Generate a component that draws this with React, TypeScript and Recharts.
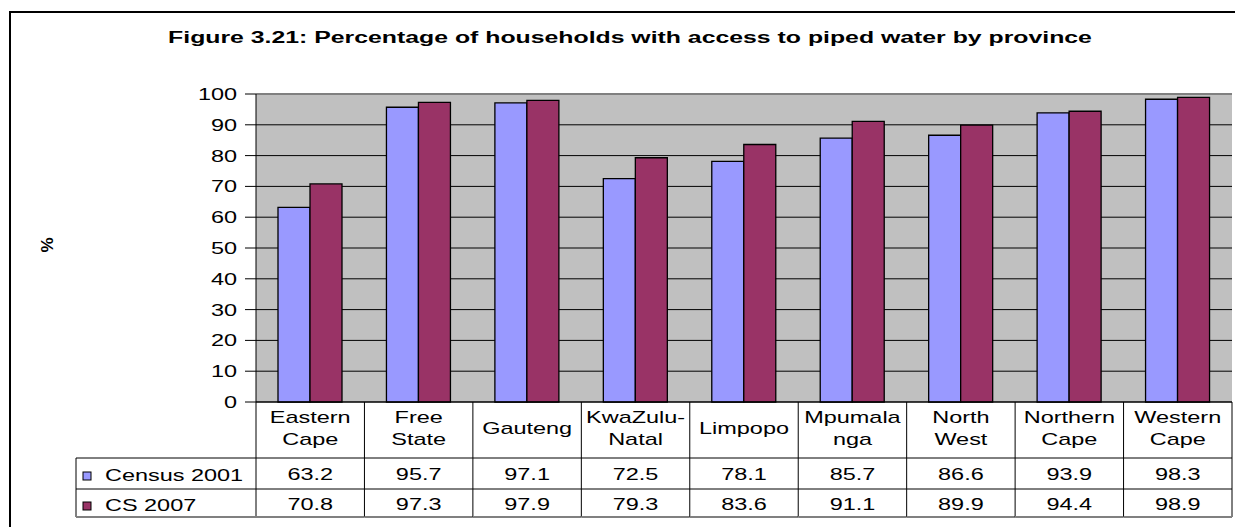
import React from 'react';
import { BarChart, Bar, XAxis, YAxis, CartesianGrid, ReferenceLine } from 'recharts';

const categories = ['Eastern\nCape', 'Free\nState', 'Gauteng', 'KwaZulu-\nNatal', 'Limpopo', 'Mpumala\nnga', 'North\nWest', 'Northern\nCape', 'Western\nCape'];
const census2001 = [63.2, 95.7, 97.1, 72.5, 78.1, 85.7, 86.6, 93.9, 98.3];
const cs2007 = [70.8, 97.3, 97.9, 79.3, 83.6, 91.1, 89.9, 94.4, 98.9];
const yTicks = [0, 10, 20, 30, 40, 50, 60, 70, 80, 90, 100];
const seriesNames = ['Census 2001', 'CS 2007'];
const seriesColors = ['#9999FF', '#993366'];
const titleText = 'Figure 3.21: Percentage of households with access to piped water by province';
const yLabel = '%';

const data = categories.map((c, i) => ({ name: c, census: census2001[i], cs: cs2007[i] }));
const seriesValues = [census2001, cs2007];

const W = 1235;
const H = 527;
const YW = 60;
const XH = 125;
const M = { top: 94, right: 3, bottom: 0, left: 196 };
const PLOT_LEFT = M.left + YW;
const PLOT_RIGHT = W - M.right;
const CELL_W = (PLOT_RIGHT - PLOT_LEFT) / categories.length;
const LEGEND_W = 180;
const FONT = '"Liberation Sans", Arial, Helvetica, sans-serif';
const SX = 1.38;
const FS = 17;

const STxt = ({ x, y, anchor = 'middle', children, weight = 'normal', sx = SX }: any) => (
  <text
    transform={`translate(${x},${y}) scale(${sx},1)`}
    textAnchor={anchor}
    fontFamily={FONT}
    fontSize={FS}
    fontWeight={weight}
    fill="#000"
  >
    {children}
  </text>
);

const YTick = (props: any) => {
  const { x, y, payload } = props;
  return <STxt x={x} y={y + 6} anchor="end">{payload.value}</STxt>;
};

const XTick = (props: any) => {
  const { x, y, index } = props;
  const left = x - CELL_W / 2;
  const right = x + CELL_W / 2;
  const lines = String(categories[index]).split('\n');
  const r1 = y + 56;
  const r2 = y + 87;
  const r3 = y + 115;
  return (
    <g>
      <line x1={left} x2={left} y1={y} y2={r3} stroke="#000" strokeWidth={1} />
      {index === categories.length - 1 && (
        <line x1={right} x2={right} y1={y} y2={r3} stroke="#000" strokeWidth={1} />
      )}
      <line x1={left} x2={right} y1={r1} y2={r1} stroke="#000" strokeWidth={1} />
      <line x1={left} x2={right} y1={r2} y2={r2} stroke="#000" strokeWidth={1} />
      <line x1={left} x2={right} y1={r3} y2={r3} stroke="#808080" strokeWidth={2} />
      {lines.length === 1 ? (
        <STxt x={x} y={y + 32}>{lines[0]}</STxt>
      ) : (
        lines.map((l, k) => (
          <STxt key={k} x={x} y={y + 21 + k * 22}>{l}</STxt>
        ))
      )}
      {seriesValues.map((vals, k) => (
        <STxt key={'v' + k} x={x} y={y + 78 + k * 30}>{vals[index].toFixed(1)}</STxt>
      ))}
      {index === 0 && (
        <g>
          <line x1={left - LEGEND_W} x2={left - LEGEND_W} y1={r1} y2={r3} stroke="#000" strokeWidth={1} />
          <line x1={left - LEGEND_W} x2={left} y1={r1} y2={r1} stroke="#000" strokeWidth={1} />
          <line x1={left - LEGEND_W} x2={left} y1={r2} y2={r2} stroke="#000" strokeWidth={1} />
          <line x1={left - LEGEND_W} x2={left} y1={r3} y2={r3} stroke="#808080" strokeWidth={2} />
          {seriesNames.map((n, k) => (
            <g key={'l' + k}>
              <rect x={left - LEGEND_W + 7} y={y + 70 + k * 30} width={8} height={8} fill={seriesColors[k]} stroke="#000" strokeWidth={1} />
              <STxt x={left - LEGEND_W + 29} y={y + 79 + k * 30} anchor="start">{n}</STxt>
            </g>
          ))}
        </g>
      )}
    </g>
  );
};

export default function App() {
  return (
    <div style={{ position: 'absolute', left: 0, top: 0, width: W, height: H, overflow: 'hidden', background: '#fff' }}>
      <BarChart width={W} height={H} data={data} margin={M} barGap={0} barSize={32}>
        <CartesianGrid yAxisId="left" vertical={false} horizontal stroke="#000" fill="#C0C0C0" fillOpacity={1} />
        <XAxis
          dataKey="name"
          height={XH}
          interval={0}
          tickLine={false}
          tickSize={0}
          tickMargin={0}
          axisLine={{ stroke: '#000', strokeWidth: 1 }}
          tick={<XTick />}
        />
        <YAxis
          yAxisId="left"
          width={YW}
          domain={[0, 100]}
          ticks={yTicks}
          interval={0}
          tickSize={11}
          tickMargin={8}
          tickLine={{ stroke: '#000' }}
          axisLine={{ stroke: '#000' }}
          tick={<YTick />}
        />
        <YAxis
          yAxisId="right"
          orientation="right"
          width={0}
          domain={[0, 100]}
          tick={false}
          tickLine={false}
          axisLine={{ stroke: '#808080', strokeWidth: 2 }}
        />
        <ReferenceLine yAxisId="left" y={100} stroke="#808080" strokeWidth={2} />
        <Bar yAxisId="left" dataKey="census" name={seriesNames[0]} fill={seriesColors[0]} stroke="#000" strokeWidth={1.3} isAnimationActive={false} />
        <Bar yAxisId="left" dataKey="cs" name={seriesNames[1]} fill={seriesColors[1]} stroke="#000" strokeWidth={1.3} isAnimationActive={false} />
      </BarChart>
      <svg width={W} height={H} style={{ position: 'absolute', left: 0, top: 0, pointerEvents: 'none' }}>
        <rect x={10} y={12} width={W + 50} height={H + 50} fill="none" stroke="#000" strokeWidth={2} />
        <STxt x={630} y={43} weight="bold" sx={1.46}>{titleText}</STxt>
        <text
          transform="translate(53,245) rotate(-90)"
          textAnchor="middle"
          fontFamily={FONT}
          fontSize={FS}
          fontWeight="bold"
          fill="#000"
        >
          {yLabel}
        </text>
      </svg>
    </div>
  );
}
